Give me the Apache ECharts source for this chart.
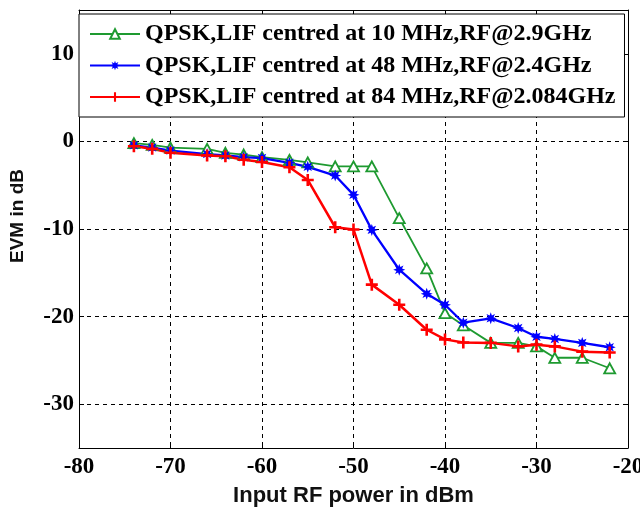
<!DOCTYPE html>
<html>
<head>
<meta charset="utf-8">
<script src="https://cdn.jsdelivr.net/npm/echarts@6/dist/echarts.min.js"></script>
<style>html,body{margin:0;padding:0;background:#fff}#c{width:640px;height:510px}</style>
</head>
<body>
<div id="c"></div>
<script>
// ---- data ----
var xPower = [-74,-72,-70,-66,-64,-62,-60,-57,-55,-52,-50,-48,-45,-42,-40,-38,-35,-32,-30,-28,-25,-22];
var evm10MHz = [-0.2,-0.4,-0.7,-0.85,-1.3,-1.5,-1.8,-2.1,-2.4,-2.85,-2.85,-2.85,-8.75,-14.5,-19.6,-21.0,-23.0,-23.0,-23.4,-24.7,-24.7,-25.9];
var evm48MHz = [-0.45,-0.7,-1.05,-1.45,-1.6,-1.8,-1.9,-2.45,-2.9,-3.9,-6.1,-10.1,-14.65,-17.4,-18.65,-20.7,-20.2,-21.3,-22.3,-22.55,-23.0,-23.5];
var evm84MHz = [-0.55,-0.85,-1.3,-1.6,-1.7,-2.1,-2.35,-2.95,-4.4,-9.8,-10.05,-16.35,-18.65,-21.5,-22.6,-22.95,-23.0,-23.4,-23.2,-23.4,-24.0,-24.1];
var seriesNames = [
  'QPSK,LIF centred at 10 MHz,RF@2.9GHz',
  'QPSK,LIF centred at 48 MHz,RF@2.4GHz',
  'QPSK,LIF centred at 84 MHz,RF@2.084GHz'
];
var yTicks = [-30,-20,-10,0,10];
var xTitle = 'Input RF power in dBm';
var yTitle = 'EVM in dB';

function pairs(xs, ys){ return xs.map(function(x,i){ return [x, ys[i]]; }); }

var GREEN = '#1e9a30', BLUE = '#0000ff', RED = '#ff0000';
var starPath = 'path://M10,0 L11.91,5.38 L17.07,2.93 L14.62,8.09 L20,10 L14.62,11.91 L17.07,17.07 L11.91,14.62 L10,20 L8.09,14.62 L2.93,17.07 L5.38,11.91 L0,10 L5.38,8.09 L2.93,2.93 L8.09,5.38 Z';
var plusPath = 'path://M4.7,0H7.3V4.7H12V7.3H7.3V12H4.7V7.3H0V4.7H4.7Z';

var labelFont = {fontFamily:'Liberation Serif', fontWeight:'bold', fontSize:23, color:'#000'};
var chart = echarts.init(document.getElementById('c'), null, {renderer:'canvas'});
chart.setOption({
  animation:false,
  backgroundColor:'#fff',
  grid:{left:79, right:12, top:10, bottom:62, containLabel:false, outerBoundsMode:'none'},
  legend:{
    orient:'vertical', left:79, top:14,
    padding:[8,9,8,10],
    itemWidth:50, itemHeight:12, itemGap:7.5,
    backgroundColor:'#fff', borderColor:'#000', borderWidth:1,
    textStyle:{fontFamily:'Liberation Serif', fontWeight:'bold', fontSize:24, color:'#000', lineHeight:24},
    data:seriesNames
  },
  xAxis:[{
    type:'value', min:-80, max:-20, interval:10,
    name:xTitle, nameLocation:'middle', nameGap:37,
    nameTextStyle:{fontFamily:'Liberation Sans', fontWeight:'bold', fontSize:22, color:'#111'},
    axisLine:{show:true, onZero:false, lineStyle:{color:'#000', width:1}},
    axisTick:{show:true, inside:true, length:5, lineStyle:{color:'#000'}},
    axisLabel:Object.assign({margin:8}, labelFont),
    splitLine:{show:true, lineStyle:{color:'#000', type:[4,4], width:1}}
  },{
    type:'value', min:-80, max:-20, interval:10, position:'top',
    axisLine:{show:true, onZero:false, lineStyle:{color:'#000', width:1}},
    axisTick:{show:true, inside:true, length:5, lineStyle:{color:'#000'}},
    axisLabel:{show:false}, splitLine:{show:false}
  }],
  yAxis:[{
    type:'value', min:-35, max:15,
    name:yTitle, nameLocation:'middle', nameGap:52,
    nameTextStyle:{fontFamily:'Liberation Sans', fontWeight:'bold', fontSize:19, color:'#111', padding:[0,0,0,26]},
    axisLine:{show:true, onZero:false, lineStyle:{color:'#000', width:1}},
    axisTick:{show:true, inside:true, length:5, customValues:yTicks, lineStyle:{color:'#000'}},
    axisLabel:Object.assign({margin:5, customValues:yTicks}, labelFont),
    splitLine:{show:true, customValues:yTicks, lineStyle:{color:'#000', type:[4,4], width:1}}
  },{
    type:'value', min:-35, max:15, position:'right',
    axisLine:{show:true, onZero:false, lineStyle:{color:'#000', width:1}},
    axisTick:{show:true, inside:true, length:5, customValues:yTicks, lineStyle:{color:'#000'}},
    axisLabel:{show:false}, splitLine:{show:false}
  }],
  series:[{
    name:seriesNames[0], type:'line', data:pairs(xPower, evm10MHz),
    symbol:'triangle', symbolSize:[11,10],
    lineStyle:{color:GREEN, width:1.8},
    itemStyle:{color:'#fff', borderColor:GREEN, borderWidth:1.8}
  },{
    name:seriesNames[1], type:'line', data:pairs(xPower, evm48MHz),
    symbol:starPath, symbolSize:12,
    lineStyle:{color:BLUE, width:2.3},
    itemStyle:{color:BLUE, borderWidth:0}
  },{
    name:seriesNames[2], type:'line', data:pairs(xPower, evm84MHz),
    symbol:plusPath, symbolSize:12,
    lineStyle:{color:RED, width:2.5},
    itemStyle:{color:RED, borderWidth:0}
  }]
});
</script>
</body>
</html>
